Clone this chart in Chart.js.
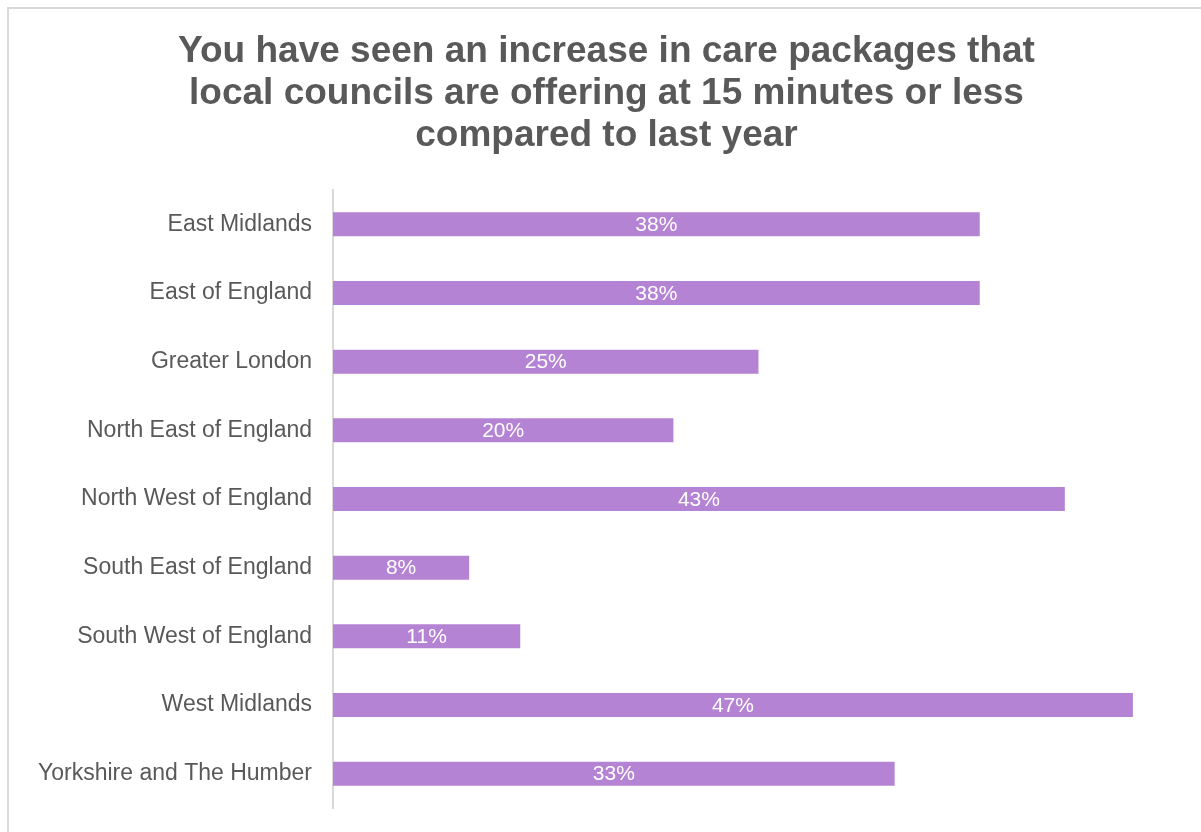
<!DOCTYPE html>
<html>
<head>
<meta charset="utf-8">
<title>Care packages at 15 minutes or less</title>
<script src="https://cdn.jsdelivr.net/npm/chart.js@4/dist/chart.umd.min.js"></script>
<style>
  html, body { margin: 0; padding: 0; background: #fff; overflow: hidden; }
  #frame {
    position: absolute; left: 7px; top: 7px;
    width: 1210px; height: 840px;
    border: 2px solid #d9d9d9; box-sizing: border-box;
  }
  #wrap { position: absolute; left: 0; top: 0; width: 1201px; height: 832px; }
</style>
</head>
<body>
<div id="frame"></div>
<div id="wrap"><canvas id="chart"></canvas></div>
<script>
// regions and share of respondents (%)
const regions = [
  'East Midlands',
  'East of England',
  'Greater London',
  'North East of England',
  'North West of England',
  'South East of England',
  'South West of England',
  'West Midlands',
  'Yorkshire and The Humber'
];
const shares = [38, 38, 25, 20, 43, 8, 11, 47, 33];

const titleLines = [
  'You have seen an increase in care packages that',
  'local councils are offering at 15 minutes or less',
  'compared to last year'
];

const FONT = '"Liberation Sans", Arial, sans-serif';

// white value labels in the middle of each bar
const barLabels = {
  id: 'barLabels',
  afterDatasetsDraw(chart) {
    const ctx = chart.ctx;
    const meta = chart.getDatasetMeta(0);
    ctx.save();
    ctx.font = '21px ' + FONT;
    ctx.fillStyle = '#ffffff';
    ctx.textAlign = 'center';
    ctx.textBaseline = 'middle';
    meta.data.forEach((bar, i) => {
      const cx = (bar.x + bar.base) / 2;
      ctx.fillText(shares[i] + '%', cx, bar.y + 1);
    });
    ctx.restore();
  }
};

new Chart(document.getElementById('chart'), {
  type: 'bar',
  data: {
    labels: regions,
    datasets: [{
      data: shares,
      backgroundColor: '#b583d3',
      categoryPercentage: 1,
      barPercentage: 0.35
    }]
  },
  options: {
    indexAxis: 'y',
    responsive: true,
    maintainAspectRatio: false,
    animation: false,
    layout: { padding: { left: 12, right: 0, top: 0, bottom: 24 } },
    plugins: {
      legend: { display: false },
      tooltip: { enabled: false },
      title: {
        display: true,
        text: titleLines,
        color: '#595959',
        font: { family: FONT, size: 37, weight: 'bold', lineHeight: 1.135 },
        padding: { top: 31, bottom: 33 }
      }
    },
    scales: {
      x: {
        display: false,
        min: 0,
        max: 51
      },
      y: {
        grid: { display: false, drawTicks: false },
        border: { display: true, color: '#d9d9d9', width: 2 },
        ticks: {
          color: '#595959',
          padding: 21,
          font: { family: FONT, size: 23 }
        },
        afterFit(scale) {
          scale.width = 321;
          scale.paddingTop = 0;
          scale.paddingBottom = 0;
        }
      }
    }
  },
  plugins: [barLabels]
});
</script>
</body>
</html>
